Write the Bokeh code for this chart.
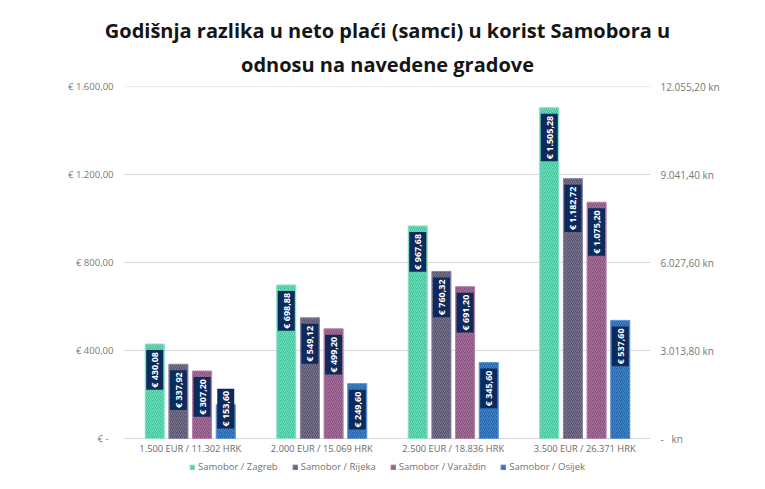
import math
from bokeh.plotting import figure
from bokeh.models import (FactorRange, FixedTicker, LinearAxis, Legend, LegendItem,
                          ColumnDataSource, Title)
from bokeh.transform import dodge
from bokeh.core.properties import value
from bokeh.embed import file_html
from bokeh.resources import INLINE

categories = ["1.500 EUR / 11.302 HRK", "2.000 EUR / 15.069 HRK",
              "2.500 EUR / 18.836 HRK", "3.500 EUR / 26.371 HRK"]
series_names = ["Samobor / Zagreb", "Samobor / Rijeka", "Samobor / Varaždin", "Samobor / Osijek"]
zagreb = [430.08, 698.88, 967.68, 1505.28]
rijeka = [337.92, 549.12, 760.32, 1182.72]
varazdin = [307.20, 499.20, 691.20, 1075.20]
osijek = [153.60, 249.60, 345.60, 537.60]
eur_ticks = [0, 400, 800, 1200, 1600]
eur_tick_labels = ["€ -\u00a0\u00a0", "€ 400,00", "€ 800,00", "€ 1.200,00", "€ 1.600,00"]
hrk_tick_labels = ["-\u00a0\u00a0\u00a0kn", "3.013,80 kn", "6.027,60 kn", "9.041,40 kn", "12.055,20 kn"]
title_lines = ["Godišnja razlika u neto plaći (samci) u korist Samobora u",
               "odnosu na navedene gradove"]

FONT = "Open Sans"
SHORT_BAR = 200  # labels of bars shorter than this are lifted above the bar top


def fmt(v):
    s = f"{v:,.2f}".replace(",", "X").replace(".", ",").replace("X", ".")
    return "€ " + s


# the frame reaches below zero so that category labels and legend sit inside it
p = figure(width=757, height=481, x_range=FactorRange(*categories), y_range=(-182, 1602),
           output_backend="svg", toolbar_location=None,
           min_border_left=124, min_border_right=107, min_border_top=86, min_border_bottom=3)
p.outline_line_color = None

p.title.text = title_lines[0]
p.title.align = "center"
p.title.text_font = FONT
p.title.text_font_size = "20px"
p.title.text_font_style = "bold"
p.title.text_color = "#151515"
p.title.standoff = -6

t2 = Title(text=title_lines[1], align="center", text_font=FONT, text_font_size="20px",
           text_font_style="bold", text_color="#151515", standoff=17)
p.add_layout(t2, "above")

p.xgrid.grid_line_color = None
p.ygrid.grid_line_color = "#d9d9d9"
p.ygrid.ticker = FixedTicker(ticks=eur_ticks)
p.xaxis.visible = False

ya = p.yaxis[0]
ya.ticker = FixedTicker(ticks=eur_ticks)
ya.major_label_overrides = dict(zip(eur_ticks, eur_tick_labels))
ya.axis_line_color = None
ya.major_tick_line_color = None
ya.minor_tick_line_color = None
ya.major_tick_out = 0
ya.major_label_text_font = FONT
ya.major_label_text_font_size = "9.5px"
ya.major_label_text_color = "#777777"
ya.major_label_standoff = 11

ra = LinearAxis(ticker=FixedTicker(ticks=eur_ticks),
                major_label_overrides=dict(zip(eur_ticks, hrk_tick_labels)))
ra.axis_line_color = None
ra.major_tick_line_color = None
ra.minor_tick_line_color = None
ra.major_tick_out = 0
ra.major_label_text_font = FONT
ra.major_label_text_font_size = "10px"
ra.major_label_text_color = "#777777"
ra.major_label_standoff = 10
p.add_layout(ra, "right")

# category labels under the zero line
cat_src = ColumnDataSource(dict(cat=categories))
p.text(x="cat", y=0, text="cat", source=cat_src, text_align="center", text_baseline="middle",
       y_offset=10, text_color="#6a6a6a", text_font=value(FONT), text_font_size="9.3px")

series = [zagreb, rijeka, varazdin, osijek]
offsets = [-0.27, -0.09, 0.09, 0.27]
fills = ["#41c79e", "#59536f", "#8a5280", "#2366b0"]
hatches = ["#8fe3c8", "#8a84a0", "#b483a8", "#5c93d0"]

label_style = dict(angle=math.pi / 2, text_align="right", text_baseline="middle",
                   text_color="white", text_font=value(FONT), text_font_size="9px",
                   text_font_style="bold", background_fill_color="#0c2a5c", padding=2)

items = []
for name, vals, off, fc, hc in zip(series_names, series, offsets, fills, hatches):
    src = ColumnDataSource(dict(cat=categories, val=vals))
    r = p.vbar(x=dodge("cat", off, range=p.x_range), top="val", width=0.145, source=src,
               fill_color=fc, line_color=hc, line_width=1,
               hatch_pattern="/", hatch_color=hc, hatch_scale=4, hatch_weight=1, hatch_alpha=0.7)
    tall = [(c, v) for c, v in zip(categories, vals) if v >= SHORT_BAR]
    short = [(c, v) for c, v in zip(categories, vals) if v < SHORT_BAR]
    for group, dy in ((tall, 6), (short, -16)):
        if not group:
            continue
        lsrc = ColumnDataSource(dict(cat=[g[0] for g in group], val=[g[1] for g in group],
                                     lab=[fmt(g[1]) for g in group]))
        p.text(x=dodge("cat", off, range=p.x_range), y="val", text="lab", source=lsrc,
               y_offset=dy, **label_style)
    items.append(LegendItem(label=name, renderers=[r]))

legend = Legend(items=items, orientation="horizontal", location="bottom_center",
                glyph_width=6, glyph_height=6, label_standoff=3, spacing=14,
                label_text_font=FONT, label_text_font_size="9.5px", label_text_color="#707070",
                border_line_color=None, background_fill_alpha=0, padding=0, margin=5)
p.add_layout(legend, "center")

open("out.html", "w").write(file_html(p, INLINE))
